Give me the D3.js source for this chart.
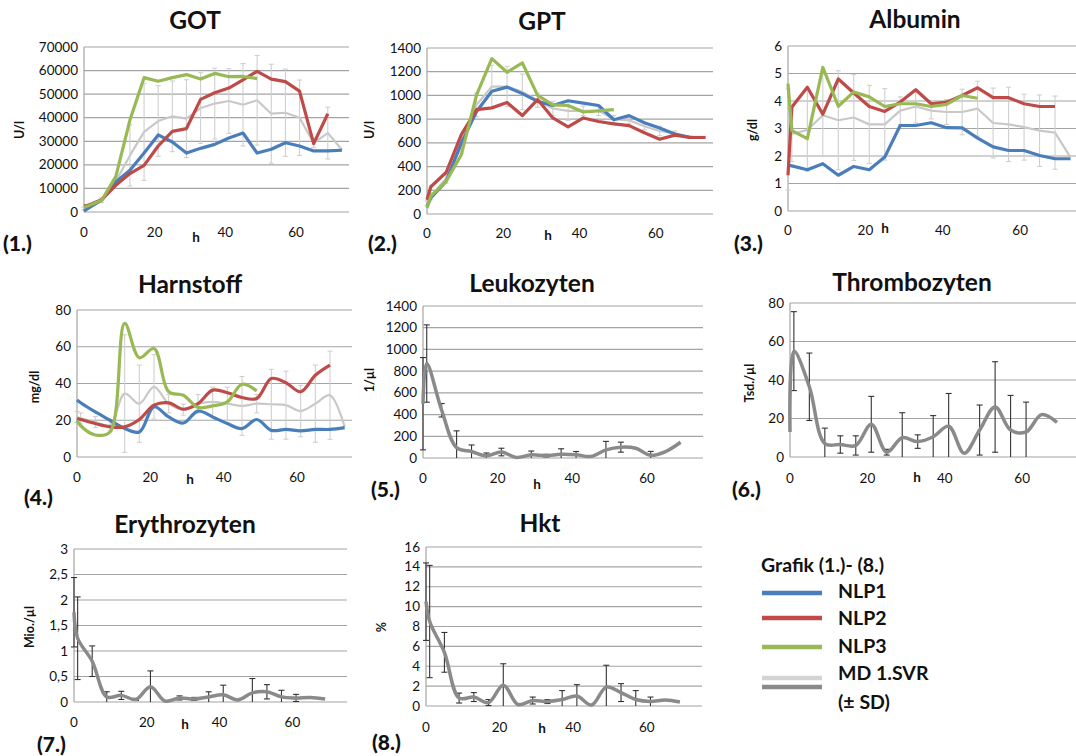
<!DOCTYPE html>
<html>
<head>
<meta charset="utf-8">
<script src="https://cdn.jsdelivr.net/npm/d3@7/dist/d3.min.js"></script>
<style>
body { margin: 0; background: #fff; }
text { font-family: Lato, "Open Sans", sans-serif; fill: #111; }
</style>
</head>
<body>
<svg id="chart" width="1076" height="756"></svg>
<script>
// sampling times (h)
const hours = [0, 1, 5, 9, 13, 17, 21, 25, 29, 33, 37, 41, 45, 49, 53, 57, 61, 65, 69, 73];
const xTicks = [0, 20, 40, 60];

// (1.) GOT
const gotNlp1 = [400, 1400, 5000, 12700, 17700, 25000, 32700, 29700, 25000, 27000, 28700, 31400, 33500, 25000, 26600, 29400, 28000, 25900, 25900, 26200];
const gotNlp2 = [2500, 2800, 5200, 11300, 16300, 19800, 28000, 34200, 35400, 47800, 50600, 52600, 56100, 59700, 56400, 55300, 51300, 29000, 41700, null];
const gotNlp3 = [2000, 2500, 5000, 15000, 39000, 57000, 55500, 57000, 58300, 56400, 58800, 57400, 57500, 56600, null, null, null, null, null, null];
const gotMd   = [1500, 2000, 5000, 13000, 24000, 34000, 38600, 40600, 39600, 44100, 46000, 47100, 45500, 47400, 41700, 42100, 40000, 29300, 33500, 26400];
const gotSd   = [500, 800, 1000, 1500, 13000, 20600, 15000, 15000, 16500, 15000, 15000, 13700, 17500, 19000, 21000, 18500, 16000, 2000, 11000, 0];

// (2.) GPT
const gptNlp1 = [65, 135, 275, 600, 865, 1035, 1070, 1015, 950, 915, 955, 935, 915, 795, 830, 770, 725, 675, 645, 645];
const gptNlp2 = [120, 230, 350, 670, 880, 895, 940, 830, 965, 810, 735, 810, 780, 760, 745, 685, 630, 665, 645, 645];
const gptNlp3 = [50, 150, 275, 500, 1005, 1310, 1195, 1275, 1000, 920, 915, 860, 870, 880, null, null, null, null, null, null];
const gptMd   = [90, 150, 300, 570, 920, 1075, 1075, 1030, 960, 890, 870, 870, 870, 800, 790, 740, 700, 680, 650, 650];
const gptSd   = [20, 30, 40, 60, 100, 180, 170, 150, 60, 60, 80, 40, 40, 30, 30, 30, 40, 20, 10, 0];

// (3.) Albumin
const albNlp1 = [1.66, 1.64, 1.5, 1.72, 1.3, 1.62, 1.5, 1.96, 3.11, 3.11, 3.21, 3.03, 3.02, 2.65, 2.33, 2.2, 2.2, 2.02, 1.9, 1.9];
const albNlp2 = [1.3, 3.78, 4.5, 3.52, 4.8, 4.29, 3.8, 3.62, 3.96, 4.41, 3.9, 3.96, 4.2, 4.48, 4.12, 4.12, 3.9, 3.8, 3.8, null];
const albNlp3 = [4.63, 2.92, 2.63, 5.22, 3.81, 4.33, 4.15, 3.8, 3.9, 3.9, 3.8, 3.88, 4.2, 4.1, null, null, null, null, null, null];
const albMd   = [2.6, 2.8, 2.95, 3.48, 3.3, 3.4, 3.15, 3.15, 3.65, 3.8, 3.65, 3.6, 3.6, 3.72, 3.2, 3.15, 3.05, 2.92, 2.85, 1.95];
const albSd   = [1.84, 1.0, 1.5, 1.5, 1.8, 1.56, 1.42, 1.3, 0.5, 0.6, 0.3, 0.45, 0.83, 1.0, 1.27, 1.35, 1.2, 1.3, 1.33, 0];

// (4.) Harnstoff
const harNlp1 = [31, 29.5, 24.5, 20, 15.5, 13.6, 27.3, 21.8, 18.5, 25, 21.8, 18.2, 15.5, 20.4, 14.5, 15, 14.2, 15, 15, 16];
const harNlp2 = [21, 20.4, 18.2, 16.4, 16.4, 20.4, 28.2, 29.5, 26, 29, 36.4, 35, 32.4, 31.8, 42.7, 40.4, 35.5, 44.5, 50, null];
const harNlp3 = [20, 17, 12, 13.6, 72.7, 54, 59, 35.5, 33.6, 27, 27.8, 30, 39.6, 36, null, null, null, null, null, null];
const harMd   = [21.8, 21, 19, 17.3, 34.5, 29, 38.2, 29, 25.8, 29, 30, 29, 27.8, 29, 28.7, 28.2, 25, 29, 33.6, 16.4];
const harSd   = [3, 3, 3, 3, 32, 21, 17.5, 5, 3, 5, 8, 9, 16, 5, 19, 18.5, 14, 21, 24, 0];

// (5.) - (8.) MD 1.SVR only
const leuMd = [500, 870, 440, 95, 60, 20, 55, 5, 30, 22, 35, 30, 15, 75, 100, 90, 25, 60, 145];
const leuSd = [425, 356, 62, 155, 60, 26, 35, 0, 34, 12, 50, 30, 0, 78, 46, 0, 36, 0, 0];
const thrMd = [13, 55, 36.5, 7, 6.5, 6, 17, 2.5, 10, 8, 10.5, 16, 2, 14, 26, 14, 13, 22, 18];
const thrSd = [0, 20.5, 17.5, 8, 4.5, 5, 14.5, 1.5, 13, 3.5, 11, 17, 0, 13, 23.5, 18, 15.5, 0, 0];
const eryMd = [1.76, 1.25, 0.8, 0.1, 0.13, 0.05, 0.3, 0.02, 0.08, 0.06, 0.1, 0.14, 0.04, 0.18, 0.2, 0.1, 0.08, 0.09, 0.06];
const erySd = [0.68, 0.81, 0.3, 0.1, 0.08, 0.02, 0.31, 0, 0.04, 0.03, 0.1, 0.19, 0, 0.28, 0.14, 0.13, 0.07, 0, 0];
const hktMd = [10.5, 8.5, 5.4, 0.8, 0.9, 0.35, 2.1, 0.15, 0.55, 0.45, 0.65, 1.0, 0.1, 1.9, 1.35, 0.65, 0.45, 0.6, 0.4];
const hktSd = [3.9, 5.65, 2, 0.5, 0.45, 0.3, 2.15, 0, 0.35, 0.2, 0.9, 1.15, 0, 2.2, 0.9, 0.9, 0.45, 0, 0];

const legendNames = ['NLP1', 'NLP2', 'NLP3'];
const colors = { NLP1: '#4a7ebb', NLP2: '#be4b48', NLP3: '#98b954' };

const panels = [
  { num: '(1.)', title: 'GOT', unit: 'U/l', yMax: 70000, yStep: 10000, md: gotMd, sd: gotSd,
    nlp: [gotNlp1, gotNlp2, gotNlp3], smooth: false,
    box: { l: 84, r: 349, t: 47, b: 212 }, titleX: 195, titleY: 29, tickY: 237, hX: 196, hY: 242, unitX: 20, unitY: 130, numX: 3, numY: 251 },
  { num: '(2.)', title: 'GPT', unit: 'U/l', yMax: 1400, yStep: 200, md: gptMd, sd: gptSd,
    nlp: [gptNlp1, gptNlp2, gptNlp3], smooth: false,
    box: { l: 427, r: 713, t: 48, b: 214 }, titleX: 542, titleY: 30, tickY: 238, hX: 548, hY: 240, unitX: 370, unitY: 130, numX: 368, numY: 251 },
  { num: '(3.)', title: 'Albumin', unit: 'g/dl', yMax: 6, yStep: 1, md: albMd, sd: albSd,
    nlp: [albNlp1, albNlp2, albNlp3], smooth: false,
    box: { l: 788, r: 1076, t: 46, b: 211 }, titleX: 915, titleY: 28, tickY: 235, hX: 885, hY: 233, unitX: 753, unitY: 130, numX: 734, numY: 251 },
  { num: '(4.)', title: 'Harnstoff', unit: 'mg/dl', yMax: 80, yStep: 20, md: harMd, sd: harSd,
    nlp: [harNlp1, harNlp2, harNlp3], smooth: true,
    box: { l: 77, r: 352, t: 310, b: 457 }, titleX: 190, titleY: 293, tickY: 482, hX: 190, hY: 484, unitX: 35, unitY: 387, numX: 24, numY: 505 },
  { num: '(5.)', title: 'Leukozyten', unit: '1/µl', yMax: 1400, yStep: 200, md: leuMd, sd: leuSd,
    nlp: [], smooth: true,
    box: { l: 423, r: 703, t: 306, b: 458 }, titleX: 532, titleY: 292, tickY: 483, hX: 537, hY: 489, unitX: 370, unitY: 380, numX: 371, numY: 497 },
  { num: '(6.)', title: 'Thrombozyten', unit: 'Tsd./µl', yMax: 80, yStep: 20, md: thrMd, sd: thrSd,
    nlp: [], smooth: true,
    box: { l: 790, r: 1076, t: 303, b: 457 }, titleX: 912, titleY: 291, tickY: 483, hX: 917, hY: 482, unitX: 750, unitY: 383, numX: 732, numY: 497 },
  { num: '(7.)', title: 'Erythrozyten', unit: 'Mio./µl', yMax: 3, yStep: 0.5, md: eryMd, sd: erySd,
    nlp: [], smooth: true, comma: true,
    box: { l: 74, r: 347, t: 549, b: 702 }, titleX: 185, titleY: 533, tickY: 727, hX: 185, hY: 729, unitX: 30, unitY: 627, numX: 37, numY: 752 },
  { num: '(8.)', title: 'Hkt', unit: '%', yMax: 16, yStep: 2, md: hktMd, sd: hktSd,
    nlp: [], smooth: true,
    box: { l: 426, r: 702, t: 547, b: 706 }, titleX: 540, titleY: 532, tickY: 732, hX: 542, hY: 733, unitX: 382, unitY: 627, numX: 372, numY: 750 }
];

const svg = d3.select('#chart');
svg.append('rect').attr('width', 1076).attr('height', 756).attr('fill', '#fff');

panels.forEach(function (p) {
  const b = p.box;
  // panels 3 and 6 run off the picture edge; they keep the same h per pixel as the others
  const xRight = b.r >= 1076 ? b.l + 75 * 3.87 : b.r;
  const x = d3.scaleLinear().domain([0, 75]).range([b.l, xRight]);
  const y = d3.scaleLinear().domain([0, p.yMax]).range([b.b, b.t]);
  const g = svg.append('g');
  const fmt = v => p.comma ? String(v).replace('.', ',') : String(v);

  // grid
  const yTicks = d3.range(0, p.yMax + p.yStep / 2, p.yStep);
  g.selectAll('.grid').data(yTicks).enter().append('line')
    .attr('x1', b.l).attr('x2', b.r)
    .attr('y1', d => y(d)).attr('y2', d => y(d))
    .attr('stroke', '#a4a4a4').attr('stroke-width', 1.2);
  g.append('line').attr('x1', b.l).attr('x2', b.l).attr('y1', b.t).attr('y2', b.b)
    .attr('stroke', '#a4a4a4').attr('stroke-width', 1.2);

  // tick labels
  g.selectAll('.yt').data(yTicks).enter().append('text')
    .attr('x', b.l - 6).attr('y', d => y(d) + 4.5)
    .attr('text-anchor', 'end').style('font-size', '13.5px')
    .text(fmt);
  g.selectAll('.xt').data(xTicks).enter().append('text')
    .attr('x', d => x(d)).attr('y', p.tickY)
    .attr('text-anchor', 'middle').style('font-size', '13.5px')
    .text(d => d);

  // labels
  g.append('text').attr('x', p.titleX).attr('y', p.titleY)
    .attr('text-anchor', 'middle').style('font-size', '24.5px').style('font-weight', 'bold')
    .text(p.title);
  g.append('text').attr('x', p.hX).attr('y', p.hY)
    .attr('text-anchor', 'middle').style('font-size', '13.5px').style('font-weight', 'bold')
    .text('h');
  g.append('text').attr('transform', 'translate(' + p.unitX + ',' + p.unitY + ') rotate(-90)')
    .attr('text-anchor', 'middle').attr('dy', '0.35em')
    .style('font-size', '12.5px').style('font-weight', 'bold')
    .text(p.unit);
  g.append('text').attr('x', p.numX).attr('y', p.numY)
    .style('font-size', '21px').style('font-weight', 900)
    .text(p.num);

  const curve = p.smooth ? d3.curveCatmullRom.alpha(0.5) : d3.curveLinear;
  const line = d3.line()
    .defined(d => d[1] != null)
    .x(d => x(d[0])).y(d => y(d[1]))
    .curve(curve);

  const dark = p.nlp.length === 0;
  const mdPts = p.md.map((v, i) => [hours[i], v]);

  // error bars (± SD)
  const bars = mdPts.map((d, i) => ({ t: d[0], v: d[1], sd: p.sd[i] })).filter(d => d.sd > 0);
  const barColor = dark ? '#333' : '#cfcfcf';
  const capW = dark ? 3 : 2.5;
  const lo = d => y(Math.max(0, d.v - d.sd));
  const hi = d => y(Math.min(p.yMax, d.v + d.sd));

  const mdLine = g.append('path').datum(mdPts)
    .attr('fill', 'none')
    .attr('stroke', dark ? '#8a8a8a' : '#c8c8c8')
    .attr('stroke-width', dark ? 3.5 : 2.2)
    .attr('stroke-linejoin', 'round')
    .attr('d', line);

  const eb = g.append('g');
  eb.selectAll('.eb').data(bars).enter().append('line')
    .attr('x1', d => x(d.t)).attr('x2', d => x(d.t))
    .attr('y1', lo).attr('y2', hi)
    .attr('stroke', barColor).attr('stroke-width', 1.1);
  eb.selectAll('.capT').data(bars.filter(d => d.v + d.sd <= p.yMax)).enter().append('line')
    .attr('x1', d => x(d.t) - capW).attr('x2', d => x(d.t) + capW)
    .attr('y1', d => y(d.v + d.sd)).attr('y2', d => y(d.v + d.sd))
    .attr('stroke', barColor).attr('stroke-width', 1.1);
  eb.selectAll('.capB').data(bars.filter(d => d.v - d.sd > 0)).enter().append('line')
    .attr('x1', d => x(d.t) - capW).attr('x2', d => x(d.t) + capW)
    .attr('y1', d => y(d.v - d.sd)).attr('y2', d => y(d.v - d.sd))
    .attr('stroke', barColor).attr('stroke-width', 1.1);

  if (dark) mdLine.raise();

  // NLP cases
  p.nlp.forEach(function (vals, k) {
    g.append('path').datum(vals.map((v, i) => [hours[i], v]))
      .attr('fill', 'none')
      .attr('stroke', colors[legendNames[k]])
      .attr('stroke-width', 3.2)
      .attr('stroke-linejoin', 'round')
      .attr('d', line);
  });
});

// legend
const lg = svg.append('g');
lg.append('text').attr('x', 761).attr('y', 572)
  .style('font-size', '19.5px').style('font-weight', 'bold')
  .text('Grafik (1.)- (8.)');
const legendRows = [
  { name: 'NLP1', y: 593, ty: 598 },
  { name: 'NLP2', y: 618, ty: 625 },
  { name: 'NLP3', y: 647, ty: 653 }
];
legendRows.forEach(function (r) {
  lg.append('line').attr('x1', 762).attr('x2', 822).attr('y1', r.y).attr('y2', r.y)
    .attr('stroke', colors[r.name]).attr('stroke-width', 4.5);
  lg.append('text').attr('x', 838).attr('y', r.ty)
    .style('font-size', '19.5px').style('font-weight', 'bold').text(r.name);
});
lg.append('line').attr('x1', 762).attr('x2', 822).attr('y1', 678).attr('y2', 678)
  .attr('stroke', '#d4d4d4').attr('stroke-width', 4.5);
lg.append('line').attr('x1', 762).attr('x2', 822).attr('y1', 687).attr('y2', 687)
  .attr('stroke', '#8a8a8a').attr('stroke-width', 4.5);
lg.append('text').attr('x', 838).attr('y', 680)
  .style('font-size', '19.5px').style('font-weight', 'bold').text('MD 1.SVR');
lg.append('text').attr('x', 838).attr('y', 709)
  .style('font-size', '19.5px').style('font-weight', 'bold').text('(± SD)');
</script>
</body>
</html>
